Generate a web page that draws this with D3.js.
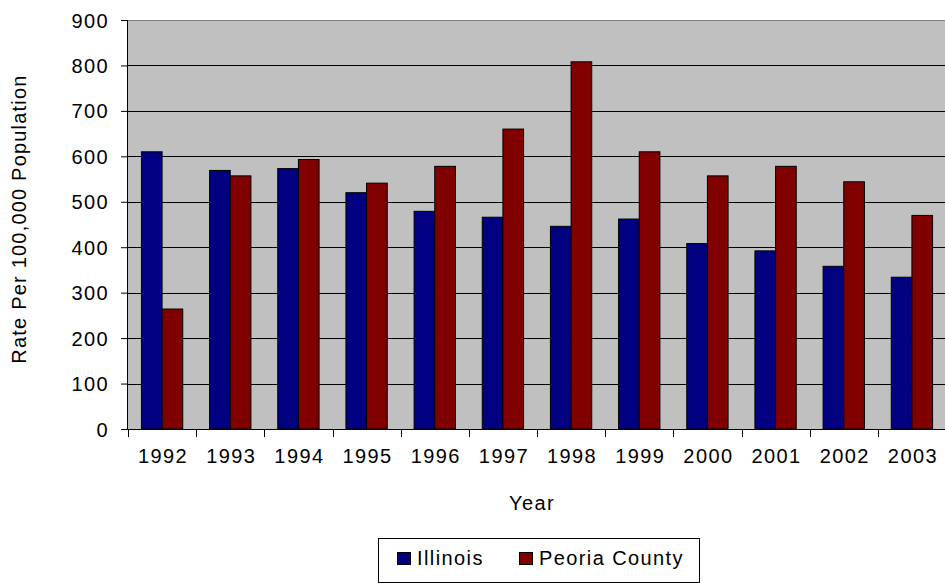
<!DOCTYPE html>
<html>
<head>
<meta charset="utf-8">
<script src="https://cdn.jsdelivr.net/npm/d3@7"></script>
<style>
  body { margin: 0; background: #fff; }
  text { font-family: "Liberation Sans", Arial, sans-serif; fill: #000; font-size: 20px; letter-spacing: 1.4px; }
</style>
</head>
<body>
<svg width="945" height="583"></svg>
<script>
const years = ['1992', '1993', '1994', '1995', '1996', '1997', '1998', '1999', '2000', '2001', '2002', '2003'];
const illinois = [610, 569, 573, 520, 479, 466, 446, 462, 408, 392, 358, 334];
const peoria = [264, 557, 593, 541, 578, 660, 808, 610, 557, 578, 544, 470];
const yTicks = [0, 100, 200, 300, 400, 500, 600, 700, 800, 900];
const seriesNames = ['Illinois', 'Peoria County'];
const colors = ['#000080', '#800000'];

const margin = { top: 20, right: -1, bottom: 154, left: 128 };
const width = 945 - margin.left - margin.right;
const height = 583 - margin.top - margin.bottom;

const svg = d3.select('svg')
  .append('g')
  .attr('transform', `translate(${margin.left},${margin.top})`);

const x = d3.scaleBand().domain(years).range([0, width]);
const x1 = d3.scaleBand().domain(seriesNames).range([0, x.bandwidth()]).paddingInner(0).paddingOuter(0.65);
const y = d3.scaleLinear().domain([0, 900]).range([height, 0]);

// plot background
svg.append('rect')
  .attr('width', width).attr('height', height)
  .attr('fill', '#c0c0c0');

// gridlines
svg.selectAll('.grid')
  .data(yTicks.filter(d => d > 0))
  .enter().append('line')
  .attr('x1', 0).attr('x2', width)
  .attr('y1', d => Math.round(y(d)) + 0.5).attr('y2', d => Math.round(y(d)) + 0.5)
  .attr('stroke', d => d === 900 ? '#808080' : '#000')
  .attr('stroke-width', 1);

// bars
const groups = svg.selectAll('.year')
  .data(years)
  .enter().append('g')
  .attr('transform', d => `translate(${x(d)},0)`);

[illinois, peoria].forEach((vals, s) => {
  groups.append('rect')
    .attr('x', (d, i) => x1(seriesNames[s]))
    .attr('y', (d, i) => y(vals[i]))
    .attr('width', x1.bandwidth())
    .attr('height', (d, i) => height - y(vals[i]))
    .attr('fill', colors[s])
    .attr('stroke', '#000')
    .attr('stroke-width', 1);
});

// y axis
const yAxis = svg.append('g')
  .call(d3.axisLeft(y).tickValues(yTicks).tickSize(7).tickPadding(12));
yAxis.select('.domain').attr('stroke', '#000').attr('d', `M-0.5,${height}V0`);
yAxis.selectAll('.tick line').attr('stroke', '#000');
yAxis.selectAll('text').attr('font-size', null).attr('font-family', null).attr('dy', '0.35em');

// x axis
const xAxis = svg.append('g')
  .attr('transform', `translate(0,${height})`)
  .call(d3.axisBottom(x).tickSize(0).tickPadding(20));
xAxis.select('.domain').attr('stroke', '#000').attr('d', `M0,0.5H${width}`);
xAxis.selectAll('text').attr('font-size', null).attr('font-family', null).attr('dx', '1px');
xAxis.selectAll('.sep')
  .data(years)
  .enter().append('line')
  .attr('x1', d => Math.round(x(d)) + 0.5).attr('x2', d => Math.round(x(d)) + 0.5)
  .attr('y1', 0).attr('y2', 8)
  .attr('stroke', '#000');

// axis titles
svg.append('text')
  .attr('x', 532 - margin.left).attr('y', 510 - margin.top)
  .attr('text-anchor', 'middle')
  .text('Year');

svg.append('text')
  .attr('transform', `translate(${26 - margin.left},${219 - margin.top}) rotate(-90)`)
  .attr('text-anchor', 'middle')
  .style('letter-spacing', '1.2px')
  .text('Rate Per 100,000 Population');

// legend
const legend = d3.select('svg').append('g').attr('transform', 'translate(378,538)');
legend.append('rect')
  .attr('x', 0.5).attr('y', 0.5).attr('width', 321).attr('height', 44)
  .attr('fill', '#fff').attr('stroke', '#000');
const legendX = [19, 141];
seriesNames.forEach((n, i) => {
  legend.append('rect')
    .attr('x', legendX[i] + 0.5).attr('y', 14.5).attr('width', 13).attr('height', 12)
    .attr('fill', colors[i]).attr('stroke', '#000');
  legend.append('text')
    .attr('x', legendX[i] + 20).attr('y', 27)
    .text(n);
});
</script>
</body>
</html>
